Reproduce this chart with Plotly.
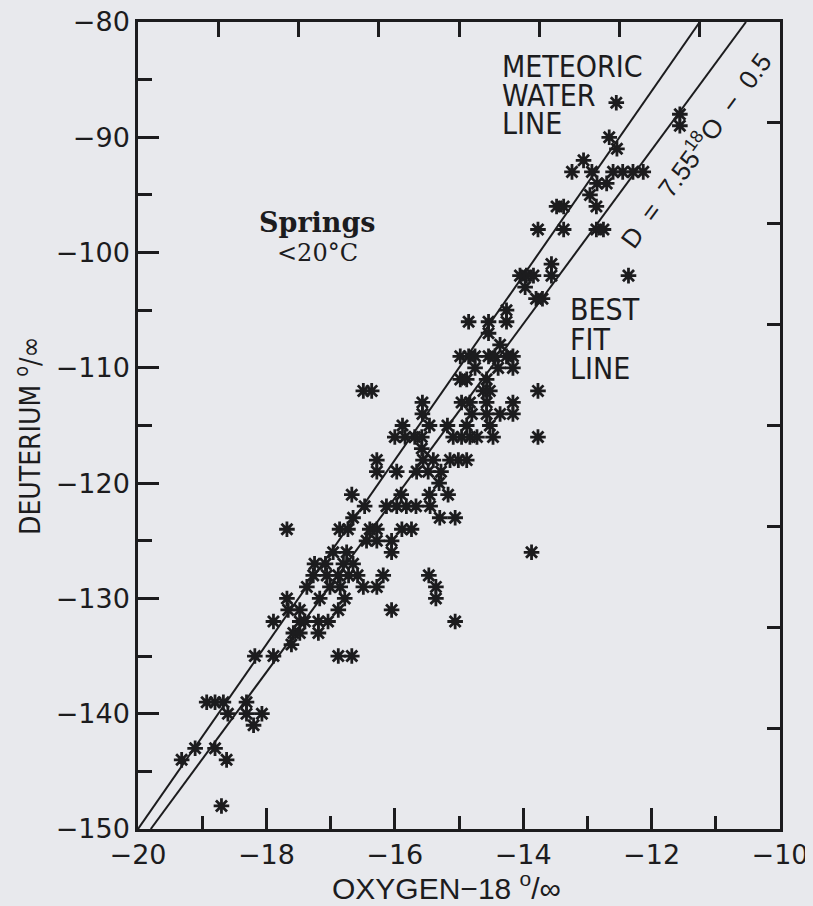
import plotly.graph_objects as go

# ---------------- data ----------------
oxygen18 = [
    -12.55, -11.56, -11.56, -12.66, -12.54, -13.06,
    -13.24, -12.93, -12.60, -12.45, -12.29, -12.13,
    -12.85, -12.70,
    -12.96,
    -13.48, -13.37, -12.86,
    -13.77, -13.37, -12.86, -12.75,
    -13.56,
    -14.05, -13.95, -13.84, -13.56, -12.36,
    -13.97,
    -13.80, -13.70,
    -14.26,
    -14.85, -14.54, -14.26,
    -14.54,
    -14.36,
    -14.98, -14.85, -14.75, -14.54, -14.44, -14.26, -14.16,
    -14.75, -14.39, -14.16,
    -14.98, -14.88, -14.57,
    -16.49, -16.36, -14.62, -14.52, -13.77,
    -15.57, -14.96, -14.83, -14.57, -14.16,
    -15.57, -14.80, -14.57, -14.36, -14.16,
    -15.88, -15.46, -15.18, -14.88, -14.52,
    -16.00, -15.84, -15.69, -15.58, -15.09, -14.96, -14.83, -14.72, -14.47, -13.77,
    -15.58,
    -16.28, -15.56, -15.40, -15.14, -15.01, -14.88,
    -16.28, -15.97, -15.66, -15.48, -15.28,
    -15.31,
    -16.67, -15.90, -15.46, -15.17,
    -16.47, -16.13, -15.97, -15.82, -15.67, -15.45,
    -16.65, -15.30, -15.06,
    -17.68, -16.86, -16.73, -16.39, -16.28, -15.89, -15.74,
    -16.44, -16.28, -16.05,
    -16.96, -16.75, -16.05, -13.87,
    -17.25, -17.08, -16.80, -16.65,
    -17.27, -17.06, -16.88, -16.72, -16.58, -16.18, -15.47,
    -17.37, -17.01, -16.85, -16.49, -16.28, -15.36,
    -17.68, -17.17, -16.78, -15.36,
    -17.66, -17.48, -16.88, -16.05,
    -17.89, -17.48, -17.40, -17.19, -17.04, -15.06,
    -17.58, -17.48, -17.19,
    -17.61,
    -18.18, -17.89, -16.88, -16.67,
    -18.93, -18.80, -18.67, -18.31,
    -18.60, -18.31, -18.07,
    -18.20,
    -19.11, -18.80,
    -19.32, -18.62,
    -18.70,
]

deuterium = [
    -87, -88, -89, -90, -91, -92,
    -93, -93, -93, -93, -93, -93,
    -94, -94,
    -95,
    -96, -96, -96,
    -98, -98, -98, -98,
    -101,
    -102, -102, -102, -102, -102,
    -103,
    -104, -104,
    -105,
    -106, -106, -106,
    -107,
    -108,
    -109, -109, -109, -109, -109, -109, -109,
    -110, -110, -110,
    -111, -111, -111,
    -112, -112, -112, -112, -112,
    -113, -113, -113, -113, -113,
    -114, -114, -114, -114, -114,
    -115, -115, -115, -115, -115,
    -116, -116, -116, -116, -116, -116, -116, -116, -116, -116,
    -117,
    -118, -118, -118, -118, -118, -118,
    -119, -119, -119, -119, -119,
    -120,
    -121, -121, -121, -121,
    -122, -122, -122, -122, -122, -122,
    -123, -123, -123,
    -124, -124, -124, -124, -124, -124, -124,
    -125, -125, -125,
    -126, -126, -126, -126,
    -127, -127, -127, -127,
    -128, -128, -128, -128, -128, -128, -128,
    -129, -129, -129, -129, -129, -129,
    -130, -130, -130, -130,
    -131, -131, -131, -131,
    -132, -132, -132, -132, -132, -132,
    -133, -133, -133,
    -134,
    -135, -135, -135, -135,
    -139, -139, -139, -139,
    -140, -140, -140,
    -141,
    -143, -143,
    -144, -144,
    -148,
]

mwl_slope, mwl_intercept = 8.0, 10.0      # meteoric water line
fit_slope, fit_intercept = 7.55, -0.5     # best fit line

x_range = [-20, -10]
y_range = [-150, -80]
x_major_ticks = [-20, -18, -16, -14, -12, -10]
y_major_ticks = [-150, -140, -130, -120, -110, -100, -90, -80]
x_top_ticks = [-18.75, -17.5, -16.25, -15, -13.75, -12.5, -11.25]
y_right_ticks = [-141.25, -132.5, -123.75, -115, -106.25, -97.5, -88.75]

# ---------------- styling / layout ----------------
INK = "#1c1c1e"
BG = "#e8e9ed"
OFF = 8                          # default body margin of the html page
PL, PR, PT, PB = 138, 780, 22, 829   # plot box in screen pixels
W, H = 813 - OFF, 906 - OFF
L, T = PL - OFF, PT - OFF
R = W - (PR - OFF)
B = H - (PB - OFF)
PW, PH = PR - PL, PB - PT

NARROW = "Liberation Sans Narrow, DejaVu Sans Condensed, Arial Narrow, sans-serif"
SANS = "Liberation Sans, Arial, sans-serif"
TICK_FONT = dict(family="DejaVu Sans, sans-serif", size=27, color=INK)


def px_x(sx):
    return (sx - PL) / PW


def px_y(sy):
    return (PB - sy) / PH


def clipped_line(m, b):
    x0 = max(x_range[0], (y_range[0] - b) / m)
    x1 = min(x_range[1], (y_range[1] - b) / m)
    return [x0, x1], [m * x0 + b, m * x1 + b]


fig = go.Figure()

for m, b in [(mwl_slope, mwl_intercept), (fit_slope, fit_intercept)]:
    lx, ly = clipped_line(m, b)
    fig.add_trace(go.Scatter(x=lx, y=ly, mode="lines",
                             line=dict(color=INK, width=2), hoverinfo="skip"))

fig.add_trace(go.Scatter(
    x=oxygen18, y=deuterium, mode="markers",
    marker=dict(symbol="asterisk", size=13, color=INK,
                line=dict(color=INK, width=2.8)),
))

# invisible trace to carry the top / right tick axes
fig.add_trace(go.Scatter(x=[None], y=[None], xaxis="x2", yaxis="y2",
                         mode="markers", hoverinfo="skip"))

axis_common = dict(showgrid=False, zeroline=False, showline=True,
                   linewidth=2.5, linecolor=INK, mirror=True,
                   ticks="inside", tickwidth=2.5, tickcolor=INK,
                   ticklen=21, tickfont=TICK_FONT, automargin=False,
                   ticklabeloverflow="allow")

fig.update_layout(
    width=W, height=H,
    margin=dict(l=L, r=R, t=T, b=B),
    paper_bgcolor=BG, plot_bgcolor=BG,
    showlegend=False,
    xaxis=dict(range=x_range, tickmode="array", tickvals=x_major_ticks,
               minor=dict(dtick=1, tick0=-20, ticks="inside", ticklen=13,
                          tickwidth=2.5, tickcolor=INK, showgrid=False),
               ticklabelstandoff=0, **axis_common),
    yaxis=dict(range=y_range, tickmode="array", tickvals=y_major_ticks,
               minor=dict(dtick=5, tick0=-150, ticks="inside", ticklen=14,
                          tickwidth=2.5, tickcolor=INK, showgrid=False),
               ticklabelstandoff=0, **axis_common),
    xaxis2=dict(range=x_range, overlaying="x", side="top", tickmode="array",
                tickvals=x_top_ticks, ticks="inside", ticklen=15, tickwidth=2.5,
                tickcolor=INK, showticklabels=False, showgrid=False,
                zeroline=False, showline=False, automargin=False),
    yaxis2=dict(range=y_range, overlaying="y", side="right", tickmode="array",
                tickvals=y_right_ticks, ticks="inside", ticklen=13, tickwidth=2.5,
                tickcolor=INK, showticklabels=False, showgrid=False,
                zeroline=False, showline=False, automargin=False),
)

ann = []


def text(t, x, y, font, xanchor="center", angle=0):
    ann.append(dict(text=t, x=px_x(x), y=px_y(y), xref="paper", yref="paper",
                    xanchor=xanchor, yanchor="middle", showarrow=False,
                    font=font, textangle=angle))


label_font = dict(family=NARROW, size=30, color=INK)
text("METEORIC", 500, 66, label_font, "left")
text("WATER", 500, 95.5, label_font, "left")
text("LINE", 500, 124, label_font, "left")
text("BEST", 568, 309.5, label_font, "left")
text("FIT", 568, 339, label_font, "left")
text("LINE", 568, 368.5, label_font, "left")

text("<b>Springs</b>", 317, 222, dict(family="DejaVu Serif, serif", size=27, color=INK))
text("&lt;20°C", 317, 253, dict(family="DejaVu Serif, serif", size=24, color=INK))

text("DEUTERIUM <sup>o</sup>/∞", 28, 436, dict(family=NARROW, size=28, color=INK),
     angle=-90)
text("OXYGEN−18 <sup>o</sup>/∞", 446, 886, dict(family=SANS, size=30, color=INK))

# equation along the best fit line
label_O = -11.755
nb = "\u00a0"
ann.append(dict(
    text=f"D{nb}{nb}={nb}{nb}7.55<sup>18</sup>O{nb}{nb}−{nb}{nb}0.5",
    x=label_O, y=fit_slope * label_O + fit_intercept, xref="x", yref="y",
    xshift=28, yshift=-21, textangle=-53.6, showarrow=False,
    xanchor="center", yanchor="middle",
    font=dict(family=SANS, size=26, color=INK)))

fig.update_layout(annotations=ann)

fig.write_html("out.html",
               post_script=f"document.body.style.background='{BG}';")
